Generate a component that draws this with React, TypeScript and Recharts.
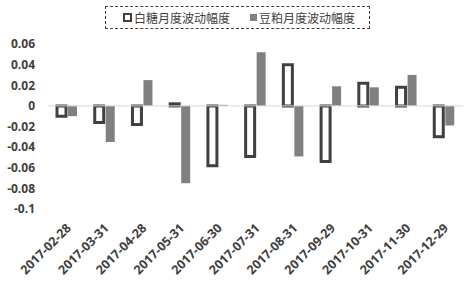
import React from 'react';
import { BarChart, Bar, XAxis, YAxis, ReferenceLine, Legend } from 'recharts';

const dates = ['2017-02-28', '2017-03-31', '2017-04-28', '2017-05-31', '2017-06-30', '2017-07-31', '2017-08-31', '2017-09-29', '2017-10-31', '2017-11-30', '2017-12-29'];
const sugar = [-0.010, -0.016, -0.018, 0.002, -0.058, -0.049, 0.040, -0.054, 0.022, 0.018, -0.030];
const soy = [-0.010, -0.035, 0.025, -0.075, 0.001, 0.052, -0.049, 0.019, 0.018, 0.030, -0.019];
const yTicks = [-0.1, -0.08, -0.06, -0.04, -0.02, 0, 0.02, 0.04, 0.06];
const sugarName = '白糖月度波动幅度';
const soyName = '豆粕月度波动幅度';

const data = dates.map((d, i) => ({ date: d, sugar: sugar[i], soy: soy[i] }));

const fmtY = (v: number) => {
  if (v === 0) return '0';
  return String(Number(v.toFixed(2)));
};

const FONT = '"Open Sans", "Liberation Sans", sans-serif';

const XTick = (props: any) => {
  const { x, y, payload } = props;
  return (
    <g transform={`translate(${x + 5},${y + 12})`}>
      <text
        textAnchor="end"
        transform="rotate(-45)"
        fontFamily={FONT}
        fontWeight="bold"
        fontSize={12.5}
        fill="#404040"
      >
        {payload.value}
      </text>
    </g>
  );
};

const LegendBox = () => (
  <div
    style={{
      boxSizing: 'border-box',
      width: 265,
      height: 23,
      border: '1px dashed #404040',
      display: 'flex',
      alignItems: 'center',
      paddingLeft: 17,
      fontFamily: '"Noto Sans CJK SC", sans-serif',
      fontSize: 12,
      color: '#404040',
      lineHeight: '14px',
    }}
  >
    <span style={{ boxSizing: 'border-box', width: 9, height: 9, border: '2.5px solid #404040', background: '#fff', display: 'inline-block' }} />
    <span style={{ marginLeft: 2 }}>{sugarName}</span>
    <span style={{ width: 7, height: 7, background: '#808080', display: 'inline-block', marginLeft: 20 }} />
    <span style={{ marginLeft: 2 }}>{soyName}</span>
  </div>
);

export default function App() {
  return (
    <div style={{ position: 'absolute', left: 0, top: 0, width: 470, height: 286, background: '#fff' }}>
      <BarChart
        width={470}
        height={286}
        data={data}
        margin={{ top: 44, right: 7, left: 0, bottom: 0 }}
        barSize={9}
        barGap={2}
      >
        <XAxis
          dataKey="date"
          axisLine={false}
          tickLine={false}
          interval={0}
          height={77}
          tick={<XTick />}
        />
        <YAxis
          width={48}
          domain={[-0.1, 0.06]}
          ticks={yTicks}
          axisLine={false}
          tickLine={false}
          tickMargin={7}
          tickFormatter={fmtY}
          tick={{ fontFamily: FONT, fontWeight: 'bold', fontSize: 12, fill: '#404040' }}
          allowDataOverflow
        />
        <ReferenceLine y={0} stroke="#d9d9d9" strokeWidth={1} />
        <Legend
          layout="horizontal"
          verticalAlign="middle"
          align="center"
          wrapperStyle={{ top: 6, left: 105, width: 265 }}
          content={() => <LegendBox />}
        />
        <Bar dataKey="sugar" name={sugarName} fill="#ffffff" stroke="#404040" strokeWidth={3} isAnimationActive={false} />
        <Bar dataKey="soy" name={soyName} fill="#808080" isAnimationActive={false} />
      </BarChart>
    </div>
  );
}
